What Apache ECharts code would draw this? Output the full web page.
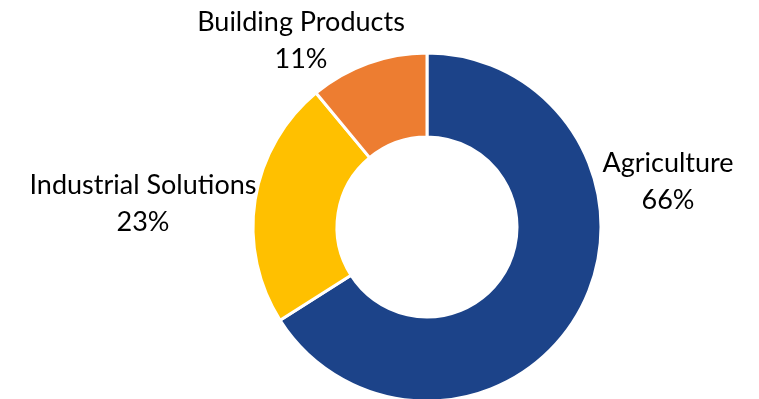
<!DOCTYPE html>
<html>
<head>
<meta charset="utf-8">
<script src="https://cdn.jsdelivr.net/npm/echarts@6/dist/echarts.min.js"></script>
<style>
  html, body { margin: 0; padding: 0; background: #ffffff; }
  #chart { width: 759px; height: 399px; }
</style>
</head>
<body>
<div id="chart"></div>
<script>
// Revenue mix by segment
const segments = ['Agriculture', 'Industrial Solutions', 'Building Products'];
const shares = [66, 23, 11];
const colors = ['#1C4389', '#FFC000', '#ED7D31'];

// label anchor points (centre of each two-line label)
const labelSpots = [[668, 182], [143, 204], [301, 41]];

const chart = echarts.init(document.getElementById('chart'), null, { renderer: 'canvas' });

chart.setOption({
  animation: false,
  series: [{
    type: 'pie',
    center: [427, 227],
    radius: [90, 174],
    startAngle: 90,
    clockwise: true,
    avoidLabelOverlap: false,
    itemStyle: { borderColor: '#ffffff', borderWidth: 3 },
    label: {
      show: true,
      position: 'outside',
      formatter: p => p.name + '\n' + p.value + '%',
      fontFamily: 'Lato',
      fontSize: 27,
      lineHeight: 37,
      color: '#000000',
      align: 'center'
    },
    labelLine: { show: false },
    labelLayout: p => ({
      x: labelSpots[p.dataIndex][0],
      y: labelSpots[p.dataIndex][1],
      align: 'center',
      verticalAlign: 'middle'
    }),
    emphasis: { disabled: true },
    data: segments.map((s, i) => ({ name: s, value: shares[i], itemStyle: { color: colors[i] } }))
  }]
});
</script>
</body>
</html>
